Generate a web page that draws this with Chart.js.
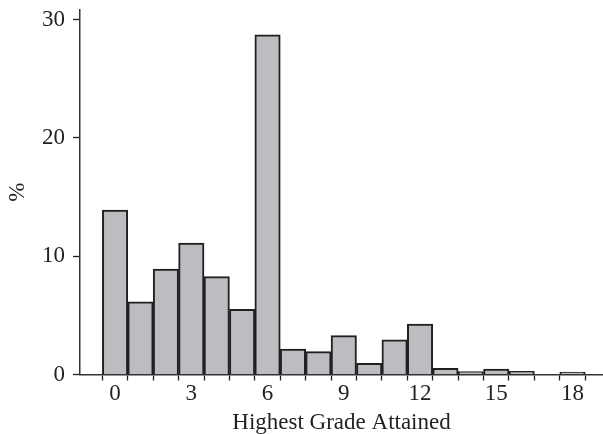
<!DOCTYPE html>
<html>
<head>
<meta charset="utf-8">
<script src="https://cdn.jsdelivr.net/npm/chart.js@4.4.1/dist/chart.umd.min.js"></script>
<style>
  html, body { margin: 0; padding: 0; background: #fff; }
</style>
</head>
<body>
<canvas id="gradeChart" width="603" height="434"></canvas>
<script>
// ===== Highest grade attained (histogram) =====
const grades   = [0, 1, 2, 3, 4, 5, 6, 7, 8, 9, 10, 11, 12, 13, 14, 15, 16, 17, 18];
const percents = [13.9, 6.15, 8.9, 11.1, 8.27, 5.5, 28.7, 2.15, 1.93, 3.28, 0.95, 2.92, 4.27, 0.52, 0.24, 0.46, 0.27, 0, 0.21];
const yTicks = [0, 10, 20, 30];
const xTickMarks = [0, 1, 2, 3, 4, 5, 6, 7, 8, 9, 10, 11, 12, 13, 14, 15, 16, 17, 18, 19];
const xLabels = [0, 3, 6, 9, 12, 15, 18];

const ink = '#231f20';
const serif = 'Liberation Serif';

const ctx = document.getElementById('gradeChart');
new Chart(ctx, {
    type: 'bar',
    data: {
        datasets: [{
            data: grades.map((g, i) => ({ x: g, y: percents[i] })),
            backgroundColor: '#bcbdc0',
            borderColor: ink,
            borderWidth: 2,
            barPercentage: 1,
            categoryPercentage: 1
        }]
    },
    options: {
        responsive: false,
        animation: false,
        devicePixelRatio: 1,
        layout: { padding: { top: 10, right: 0, left: 0, bottom: 0 } },
        plugins: { legend: { display: false }, tooltip: { enabled: false } },
        scales: {
            x: {
                type: 'linear',
                offset: false,
                min: -1.38,
                max: 19.2,
                afterBuildTicks: s => { s.ticks = xTickMarks.map(v => ({ value: v })); },
                afterFit: s => { s.height = 59.5; },
                grid: { drawOnChartArea: false, drawTicks: true, tickLength: 6, color: ink, tickWidth: 1.3 },
                border: { display: true, color: '#333', width: 1.5 },
                ticks: {
                    autoSkip: false,
                    maxRotation: 0,
                    padding: 0,
                    color: ink,
                    font: { family: serif, size: 23 },
                    callback: v => xLabels.includes(v) ? String(v) : ''
                },
                title: {
                    display: true,
                    text: 'Highest Grade Attained',
                    color: ink,
                    font: { family: serif, size: 23 },
                    padding: { top: 0, bottom: -3 }
                }
            },
            y: {
                min: 0,
                max: 30.8,
                afterBuildTicks: s => { s.ticks = yTicks.map(v => ({ value: v })); },
                afterFit: s => { s.width = 80; s.paddingTop = 0; s.paddingBottom = 0; },
                grid: { drawOnChartArea: false, drawTicks: true, tickLength: 7, color: ink, tickWidth: 1.3 },
                border: { display: true, color: '#333', width: 1.5 },
                ticks: {
                    padding: 8,
                    color: ink,
                    font: { family: serif, size: 23 }
                },
                title: {
                    display: true,
                    text: '%',
                    color: ink,
                    font: { family: serif, size: 23 },
                    padding: { top: 4, bottom: 0 }
                }
            }
        }
    }
});
</script>
</body>
</html>
